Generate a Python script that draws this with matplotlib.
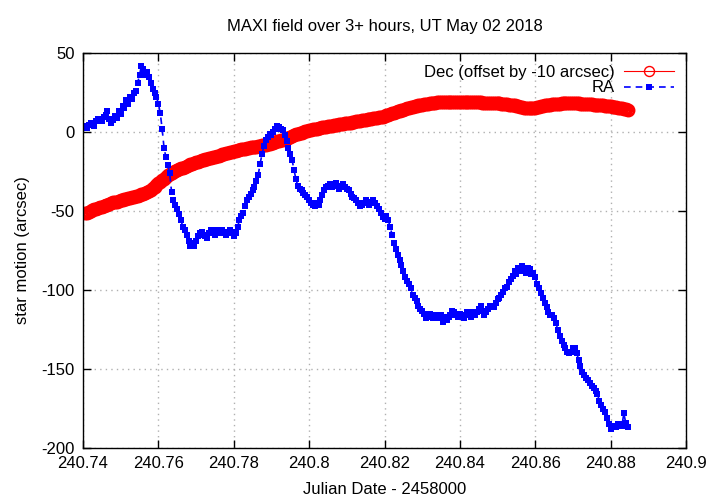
import numpy as np
import matplotlib
matplotlib.use("Agg")
import matplotlib.pyplot as plt
from matplotlib.ticker import FuncFormatter

plt.rcParams['font.family'] = ['Liberation Sans', 'DejaVu Sans']
plt.rcParams['axes.unicode_minus'] = False

title = "MAXI field over 3+ hours, UT May 02 2018"
xlabel = "Julian Date - 2458000"
ylabel = "star motion (arcsec)"
dec_label = "Dec (offset by -10 arcsec)"
ra_label = "RA"

jd_start = 240.7405
jd_step = 0.0005

ra = [4, 2.5, 4.5, 6, 5.5, 4, 7, 8.5, 8, 7,
      9.5, 11, 13, 8, 6, 7.5, 10, 9, 13, 11.5,
      16.5, 15, 20, 18, 22, 21, 24.5, 26, 31, 36,
      42, 40, 36, 38, 35, 31, 27, 25, 22, 18,
      12, 2, -10, -16, -21, -26, -38, -43, -46, -49,
      -52, -56, -60, -62, -65, -69, -72, -70, -72, -69,
      -66, -64, -63, -65, -66, -67, -64, -62, -63, -65,
      -62, -64, -64, -62, -63, -65, -64, -62, -63, -66,
      -64, -60, -56, -53, -51, -47, -43, -41, -39, -37,
      -35, -31, -27, -20, -14, -9, -5, -3, -1.5, -2,
      0, 2, 4, 3, 2, 1, -2, -6, -10, -14,
      -18, -24, -30, -34, -36, -37, -38.6, -40, -41, -43,
      -45, -46, -47, -45, -46, -43, -40, -37, -35, -34,
      -33, -35, -33.5, -32, -34, -36, -35, -33, -35, -36,
      -37, -39, -41, -42, -43, -45, -47, -46, -45, -43,
      -44, -46, -44, -43, -45, -47, -49, -51, -54, -55,
      -53, -56, -60, -65, -70, -74, -78, -81, -84, -88,
      -92, -94, -96, -99, -103, -105, -107, -110, -112, -113,
      -115, -118, -117, -115, -116, -118, -117, -116, -118, -116,
      -120, -117, -119, -117, -116, -113, -114, -116, -117, -115,
      -116, -118, -116, -114, -115, -117, -114, -116, -114, -112,
      -110, -113, -116, -114, -112, -110, -110, -111, -108, -106,
      -105, -103, -101, -99, -98, -95, -93, -91, -88, -90,
      -86, -88, -85, -87, -89, -86, -87, -90, -89, -92,
      -96, -99, -102, -105, -108, -111, -114, -116, -116, -118,
      -121, -125, -129, -132, -135, -137, -139, -140, -139, -137,
      -137, -140, -144, -148, -152, -154, -156, -157, -159, -161,
      -162, -164, -166, -170, -173, -175, -177, -181, -185, -188,
      -187, -186, -187, -185, -185, -186, -178, -184, -187]

dec = [-51.5, -51, -50.5, -50, -49.5, -49, -48.5, -48, -47.5, -47.3,
       -46.8, -46.3, -46, -45.5, -45, -44.6, -44.3, -44.1, -43.8, -43.3,
       -43, -42.7, -42.3, -42, -41.8, -41.3, -41, -40.8, -40.5, -40,
       -39.5, -39, -38.5, -38, -37.3, -36.5, -35.5, -34.5, -33.5, -32.5,
       -31.5, -30.5, -29.5, -28.5, -27.5, -26.8, -26, -25.3, -24.8, -24.2,
       -23.5, -23, -22.5, -22, -21.5, -21, -20.5, -20, -19.5, -19.1,
       -18.7, -18.3, -18, -17.6, -17.2, -16.9, -16.5, -16.3, -16, -15.6,
       -15.3, -14.9, -14.5, -14.1, -13.8, -13.5, -13.2, -12.8, -12.5, -12.3,
       -12, -11.6, -11.3, -11, -10.8, -10.5, -10.3, -10, -9.8, -9.6,
       -9.4, -9.2, -9, -8.7, -8.5, -8.3, -8, -7.6, -7.3, -7,
       -6.7, -6.3, -6, -5.7, -5.3, -4.9, -4.5, -4, -3.5, -3,
       -2.5, -2, -1.5, -1.2, -0.8, -0.4, 0, 0.4, 0.7, 1,
       1.3, 1.6, 1.9, 2.1, 2.4, 2.7, 2.9, 3.1, 3.3, 3.6,
       3.8, 4, 4.2, 4.4, 4.6, 4.8, 5, 5.2, 5.4, 5.6,
       5.8, 6, 6.2, 6.5, 6.7, 7, 7.2, 7.5, 7.7, 7.9,
       8.1, 8.3, 8.5, 8.7, 8.9, 9.1, 9.3, 9.5, 9.8, 10.1,
       10.5, 10.9, 11.3, 11.8, 12.2, 12.6, 13, 13.4, 13.8, 14.2,
       14.6, 15, 15.3, 15.7, 16, 16.3, 16.6, 16.9, 17.1, 17.4,
       17.6, 17.8, 18, 18.2, 18.3, 18.5, 18.6, 18.7, 18.8, 18.9,
       19, 19, 19, 19.1, 19.1, 19.2, 19.2, 19.1, 19.1, 19.2,
       19.2, 19.1, 19.1, 19, 19, 19, 18.9, 18.8, 18.8, 18.8,
       18.7, 18.6, 18.6, 18.6, 18.5, 18.4, 18.4, 18.4, 18.3, 18.2,
       18.1, 18, 17.8, 17.7, 17.5, 17.3, 17.2, 17, 16.8, 16.5,
       16.3, 16, 15.8, 15.5, 15.3, 15.1, 15, 15, 15.2, 15.5,
       15.8, 16.1, 16.4, 16.6, 16.8, 17, 17.2, 17.3, 17.5, 17.7,
       17.8, 17.9, 18, 18.1, 18.2, 18.3, 18.3, 18.3, 18.3, 18.2,
       18.2, 18.2, 18.1, 18, 18, 17.9, 17.8, 17.7, 17.6, 17.5,
       17.4, 17.3, 17.2, 17.1, 17, 16.8, 16.7, 16.5, 16.4, 16.2,
       16, 15.8, 15.7, 15.5, 15.4, 15.1, 14.8, 14.4, 14]

jd_ra = np.round(jd_start + jd_step * np.arange(len(ra)), 5)
jd_dec = np.round(jd_start + jd_step * np.arange(len(dec)), 5)

xticks = [240.74, 240.76, 240.78, 240.8, 240.82, 240.84, 240.86, 240.88, 240.9]
yticks = [-200, -150, -100, -50, 0, 50]

fig = plt.figure(figsize=(7.2, 5.04), dpi=100)
ax = fig.add_axes([83/720, 1-448/504, (686-83)/720, (448-53)/504])

ax.plot(jd_dec, dec, color='#ff0000', lw=0.8, marker='o', markersize=8.2,
        markerfacecolor='none', markeredgecolor='#ff0000', markeredgewidth=1.8,
        label=dec_label)
ax.plot(jd_ra, ra, color='#0000ff', lw=1.2, linestyle=(0, (4, 3)), marker='s',
        markersize=4.0, markerfacecolor='#0000ff', markeredgewidth=0,
        label=ra_label)

ax.set_xlim(240.74, 240.9)
ax.set_ylim(-200, 50)
ax.set_xticks(xticks)
ax.set_yticks(yticks)
ax.xaxis.set_major_formatter(FuncFormatter(lambda v, p: f"{v:g}"))
ax.tick_params(direction='in', length=6, width=1, top=True, right=True,
               labelsize=12, pad=6, colors='black')
ax.grid(True, color='#b0b0b0', linestyle=(0, (1, 3)), linewidth=1)
for s in ax.spines.values():
    s.set_linewidth(1)
    s.set_color('black')

ax.set_title(title, fontsize=12, pad=16)
ax.set_xlabel(xlabel, fontsize=12, labelpad=8)
ax.set_ylabel(ylabel, fontsize=12, labelpad=8)

leg = ax.legend(loc='upper right', frameon=False, markerfirst=False,
                handlelength=3.0, fontsize=12, borderaxespad=0.3,
                labelspacing=0.05, handletextpad=0.6, numpoints=1)
leg.legend_handles[0].set_markeredgewidth(1.0)
leg.legend_handles[0].set_markersize(7.2)

fig.savefig("out.png", dpi=100)
